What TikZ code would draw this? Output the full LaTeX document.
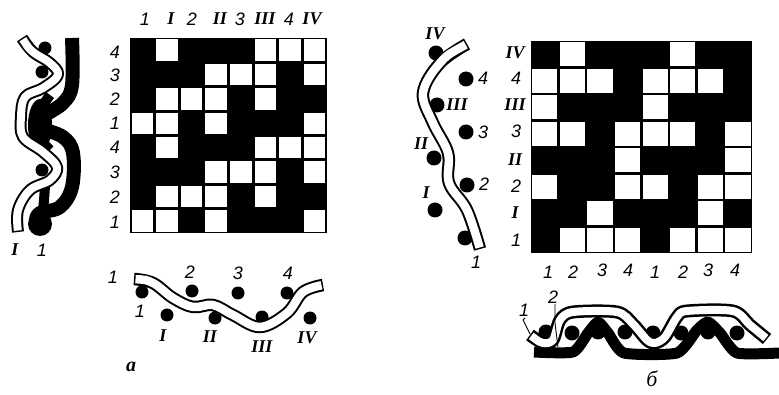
\documentclass[tikz,border=0pt]{standalone}
\usepackage{fontspec}
\setmainfont{Liberation Serif}
\setsansfont{Liberation Sans}
\newcommand{\dg}[1]{{\sffamily\itshape\fontsize{18}{18}\selectfont #1}}
\newcommand{\rn}[1]{{\rmfamily\itshape\bfseries\fontsize{18}{18}\selectfont #1}}
\tikzset{
  outl/.style={black,line width=#1,line cap=butt,line join=round},
  fillw/.style={white,line width=#1,line cap=butt,line join=round,shorten >=1.5pt,shorten <=1.5pt},
  cellw/.style={fill=white,draw=none},
  lab/.style={inner sep=0pt,anchor=center,text=black},
  dotk/.style={circle,fill=black,inner sep=0pt,minimum size=#1},
  leader/.style={black,line width=0.9pt}
}
\begin{document}
\begin{tikzpicture}[x=1pt,y=-1pt]
\useasboundingbox (0,0) rectangle (779,395);
\fill[white] (0,0) rectangle (779,395);

% ---------- left grid ----------
\fill[black] (130,38) rectangle (327,233);
\foreach \c/\r in {2/1,6/1,7/1,8/1, 4/2,5/2,6/2,8/2, 2/3,3/3,4/3,6/3, 1/4,2/4,4/4,8/4,
                   2/5,6/5,7/5,8/5, 4/6,5/6,6/6,8/6, 2/7,3/7,4/7,6/7, 1/8,2/8,4/8,8/8}{
  \fill[cellw] ({130+(\c-1)*24.6+1.5},{38+(\r-1)*24.4+1.5}) rectangle ({130+\c*24.6-1.5},{38+\r*24.4-1.5});
}
\node[lab] (gaT1) at (145,19) {\dg{1}};
\node[lab] (gaT2) at (171,19) {\rn{I}};
\node[lab] (gaT3) at (192,19) {\dg{2}};
\node[lab] (gaT4) at (220,19) {\rn{II}};
\node[lab] (gaT5) at (240,19) {\dg{3}};
\node[lab] (gaT6) at (265,19) {\rn{III}};
\node[lab] (gaT7) at (289,19) {\dg{4}};
\node[lab] (gaT8) at (312,19) {\rn{IV}};
\node[lab] (gaS1) at (115,52) {\dg{4}};
\node[lab] (gaS2) at (115,75) {\dg{3}};
\node[lab] (gaS3) at (115,99) {\dg{2}};
\node[lab] (gaS4) at (115,123) {\dg{1}};
\node[lab] (gaS5) at (115,147) {\dg{4}};
\node[lab] (gaS6) at (115,172) {\dg{3}};
\node[lab] (gaS7) at (115,197) {\dg{2}};
\node[lab] (gaS8) at (115,222) {\dg{1}};

% ---------- right grid ----------
\fill[black] (531,41) rectangle (752,253);
\foreach \c/\r in {2/1,6/1, 1/2,2/2,3/2,5/2,6/2,7/2, 1/3,5/3, 1/4,2/4,4/4,5/4,6/4,8/4,
                   4/5,8/5, 1/6,4/6,5/6,7/6,8/6, 3/7,7/7, 2/8,3/8,4/8,6/8,7/8,8/8}{
  \fill[cellw] ({531+(\c-1)*27.6+1.2},{41+(\r-1)*26.5+1.2}) rectangle ({531+\c*27.6-1.2},{41+\r*26.5-1.2});
}
\node[lab] (gbS1) at (515,53) {\rn{IV}};
\node[lab] (gbS2) at (516,78) {\dg{4}};
\node[lab] (gbS3) at (515,105) {\rn{III}};
\node[lab] (gbS4) at (516,131) {\dg{3}};
\node[lab] (gbS5) at (515,160) {\rn{II}};
\node[lab] (gbS6) at (516,186) {\dg{2}};
\node[lab] (gbS7) at (515,213) {\rn{I}};
\node[lab] (gbS8) at (516,240) {\dg{1}};
\node[lab] (gbB1) at (548,272) {\dg{1}};
\node[lab] (gbB2) at (573,272) {\dg{2}};
\node[lab] (gbB3) at (602,270) {\dg{3}};
\node[lab] (gbB4) at (628,270) {\dg{4}};
\node[lab] (gbB5) at (655,272) {\dg{1}};
\node[lab] (gbB6) at (683,272) {\dg{2}};
\node[lab] (gbB7) at (708,270) {\dg{3}};
\node[lab] (gbB8) at (735,270) {\dg{4}};

% ---------- left weave, vertical ----------
\draw[black,line width=14pt,line join=round]
  plot[smooth,tension=0.6] coordinates {(72,38) (72,85) (63,103) (43,117) (40,127) (63,137) (73,153) (72,187) (60,207) (40,213) (36,220)};
\draw[black,line width=10pt]
  plot[smooth,tension=0.6] coordinates {(50,95) (38,115) (38,135) (50,150)};
\draw[black,line width=10pt]
  plot[smooth,tension=0.6] coordinates {(45,186) (44,200) (42,222)};
\fill[black] (40,125) ellipse (12 and 26);
\node[dotk=24pt] (wd1) at (40,224) {};
\node[dotk=13pt] (wd2) at (45,48) {};
\node[dotk=13pt] (wd3) at (42,72) {};
\node[dotk=13pt] (wd4) at (42,170) {};
\def\pathA{(22,38) (33,52) (50,63) (58,75) (43,88) (25,97) (21,117) (23,137) (43,152) (57,167) (50,180) (30,190) (18,210) (18,232)}
\draw[outl=12pt] plot[smooth,tension=0.6] coordinates {\pathA};
\draw[fillw=8pt] plot[smooth,tension=0.6] coordinates {\pathA};
\node[lab] (wl1) at (15,250) {\rn{I}};
\node[lab] (wl2) at (42,250) {\dg{1}};

% ---------- left weave, horizontal ----------
\foreach \n/\x/\y in {1/142/292,2/192/291,3/238/293,4/287/293,5/167/315,6/215/318,7/262/317,8/310/318}{
  \node[dotk=13pt] (hd\n) at (\x,\y) {};
}
\def\pathB{(134,279) (153,283) (173,298) (193,307) (213,305) (233,315) (260,327) (287,313) (303,292) (323,285)}
\draw[outl=12.5pt] plot[smooth,tension=0.6] coordinates {\pathB};
\draw[fillw=8.5pt] plot[smooth,tension=0.6] coordinates {\pathB};
\node[lab] (hl1) at (113,277) {\dg{1}};
\node[lab] (hl2) at (190,272) {\dg{2}};
\node[lab] (hl3) at (238,273) {\dg{3}};
\node[lab] (hl4) at (288,273) {\dg{4}};
\node[lab] (hl5) at (140,311) {\dg{1}};
\node[lab] (hl6) at (163,336) {\rn{I}};
\node[lab] (hl7) at (210,337) {\rn{II}};
\node[lab] (hl8) at (262,347) {\rn{III}};
\node[lab] (hl9) at (307,338) {\rn{IV}};
\node[lab] (capa) at (131,367) {{\rmfamily\itshape\bfseries\fontsize{20}{20}\selectfont а}};

% ---------- right weave, vertical ----------
\foreach \n/\x/\y in {1/436/53,2/466/79,3/437/105,4/466/132,5/434/158,6/467/185,7/435/210,8/465/238}{
  \node[dotk=15pt] (vd\n) at (\x,\y) {};
}
\def\pathC{(467,44) (440,63) (423,93) (433,123) (448,153) (449,183) (467,210) (480,249)}
\draw[outl=12.5pt] plot[smooth,tension=0.6] coordinates {\pathC};
\draw[fillw=8.5pt] plot[smooth,tension=0.6] coordinates {\pathC};
\node[lab] (vl1) at (435,34) {\rn{IV}};
\node[lab] (vl2) at (483,78) {\dg{4}};
\node[lab] (vl3) at (457,105) {\rn{III}};
\node[lab] (vl4) at (483,132) {\dg{3}};
\node[lab] (vl5) at (421,144) {\rn{II}};
\node[lab] (vl6) at (484,184) {\dg{2}};
\node[lab] (vl7) at (426,193) {\rn{I}};
\node[lab] (vl8) at (476,262) {\dg{1}};

% ---------- right weave, horizontal ----------
\draw[black,line width=11pt,line join=round]
  plot[smooth,tension=0.35] coordinates {(534,352) (573,352) (588,333) (598,322) (608,333) (624,353) (677,353) (697,330) (708,322) (720,333) (737,353) (779,353)};
\foreach \n/\x/\y in {1/546/332,2/572/333,3/598/332,4/625/332,5/653/333,6/681/333,7/708/332,8/737/333}{
  \node[dotk=15pt] (bd\n) at (\x,\y) {};
}
\def\pathD{(530,335) (543,343) (553,340) (560,320) (573,312) (617,312) (633,324) (647,340) (655,343) (665,337) (677,317) (687,311) (733,311) (750,325) (767,339)}
\draw[outl=13pt] plot[smooth,tension=0.5] coordinates {\pathD};
\draw[fillw=8pt] plot[smooth,tension=0.5] coordinates {\pathD};
\node[lab] (bl1) at (524,310) {\dg{1}};
\node[lab] (bl2) at (553,297) {\dg{2}};
\coordinate (c1a) at (525,318);
\coordinate (c1b) at (523,320);
\coordinate (c1c) at (530,334);
\coordinate (c2a) at (555,304);
\coordinate (c2b) at (555,323);
\coordinate (c2c) at (558,347);
\draw[leader] (c1a) -- (c1b) -- (c1c);
\draw[leader] (c2a) -- (c2b) -- (c2c);
\node[lab] (capb) at (652,379) {{\rmfamily\itshape\fontsize{22}{22}\selectfont б}};
\end{tikzpicture}
\end{document}
